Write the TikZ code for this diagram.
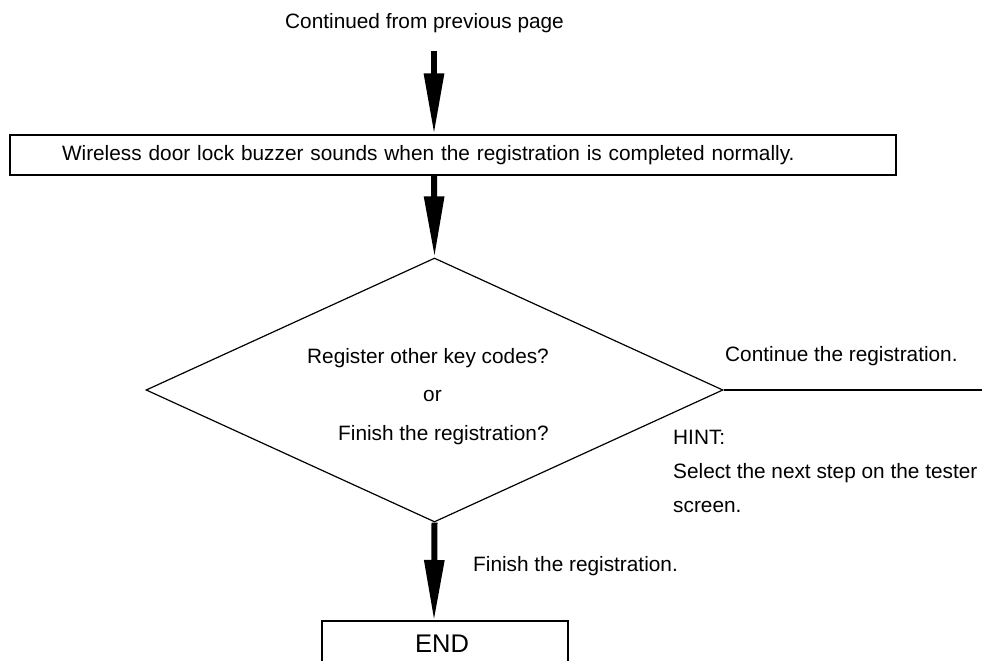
\documentclass[tikz,border=0pt]{standalone}
\usepackage{fontspec}
\setmainfont{Liberation Sans}
\usetikzlibrary{arrows.meta,shapes.geometric}
\tikzset{
	flow/.style={font=\fontsize{20.8}{34}\selectfont},
	txt/.style={flow,anchor=base west,inner sep=0pt},
	fat/.style={line width=6pt,-{Triangle[length=61pt,width=19pt]}},
	thin/.style={draw,line width=1.2pt},
}

\begin{document}
\begin{tikzpicture}[x=1pt,y=-1pt]
	\useasboundingbox (0,0) rectangle (982,661);
	\node[txt] at (285,29)(cont){Continued from previous page};
	\coordinate (in) at (434,51);
	\node[thin,flow,minimum height=40pt,text width=782pt,inner xsep=52pt,inner ysep=0pt,align=left] at (453,155)(buzz){Wireless door lock buzzer sounds when the registration is completed normally.};

	\node[thin,diamond,minimum width=577pt,minimum height=264pt,inner sep=0pt] at (434.5,390)(ask){};
	\node[txt] at (307,363)(reg){Register other key codes?};
	\node[txt] at (423,401)(or){or};
	\node[txt] at (338,440)(fin){Finish the registration?};
	\node[txt] at (725,361)(more){Continue the registration.};
	\node[txt,align=left] at (673,512)(hint){HINT:\\Select the next step on the tester\\screen.};
	\coordinate (exit) at (982,390);

	\node[txt] at (473,571)(done){Finish the registration.};
	\coordinate (endtop) at (434,621);
	\draw[line width=1.2pt] (322,661) -- (322,621) -- (568,621) -- (568,661);
	\node[font=\fontsize{25.5}{30}\selectfont,anchor=base,inner sep=0pt] at (442,652)(end){END};

	\path[fat] (in)edge(in |- buzz.north) (in |- buzz.south)edge(ask.north) (ask.south)edge(endtop);
	\draw[line width=2.4pt] (ask.east) -- (exit);
\end{tikzpicture}
\end{document}
